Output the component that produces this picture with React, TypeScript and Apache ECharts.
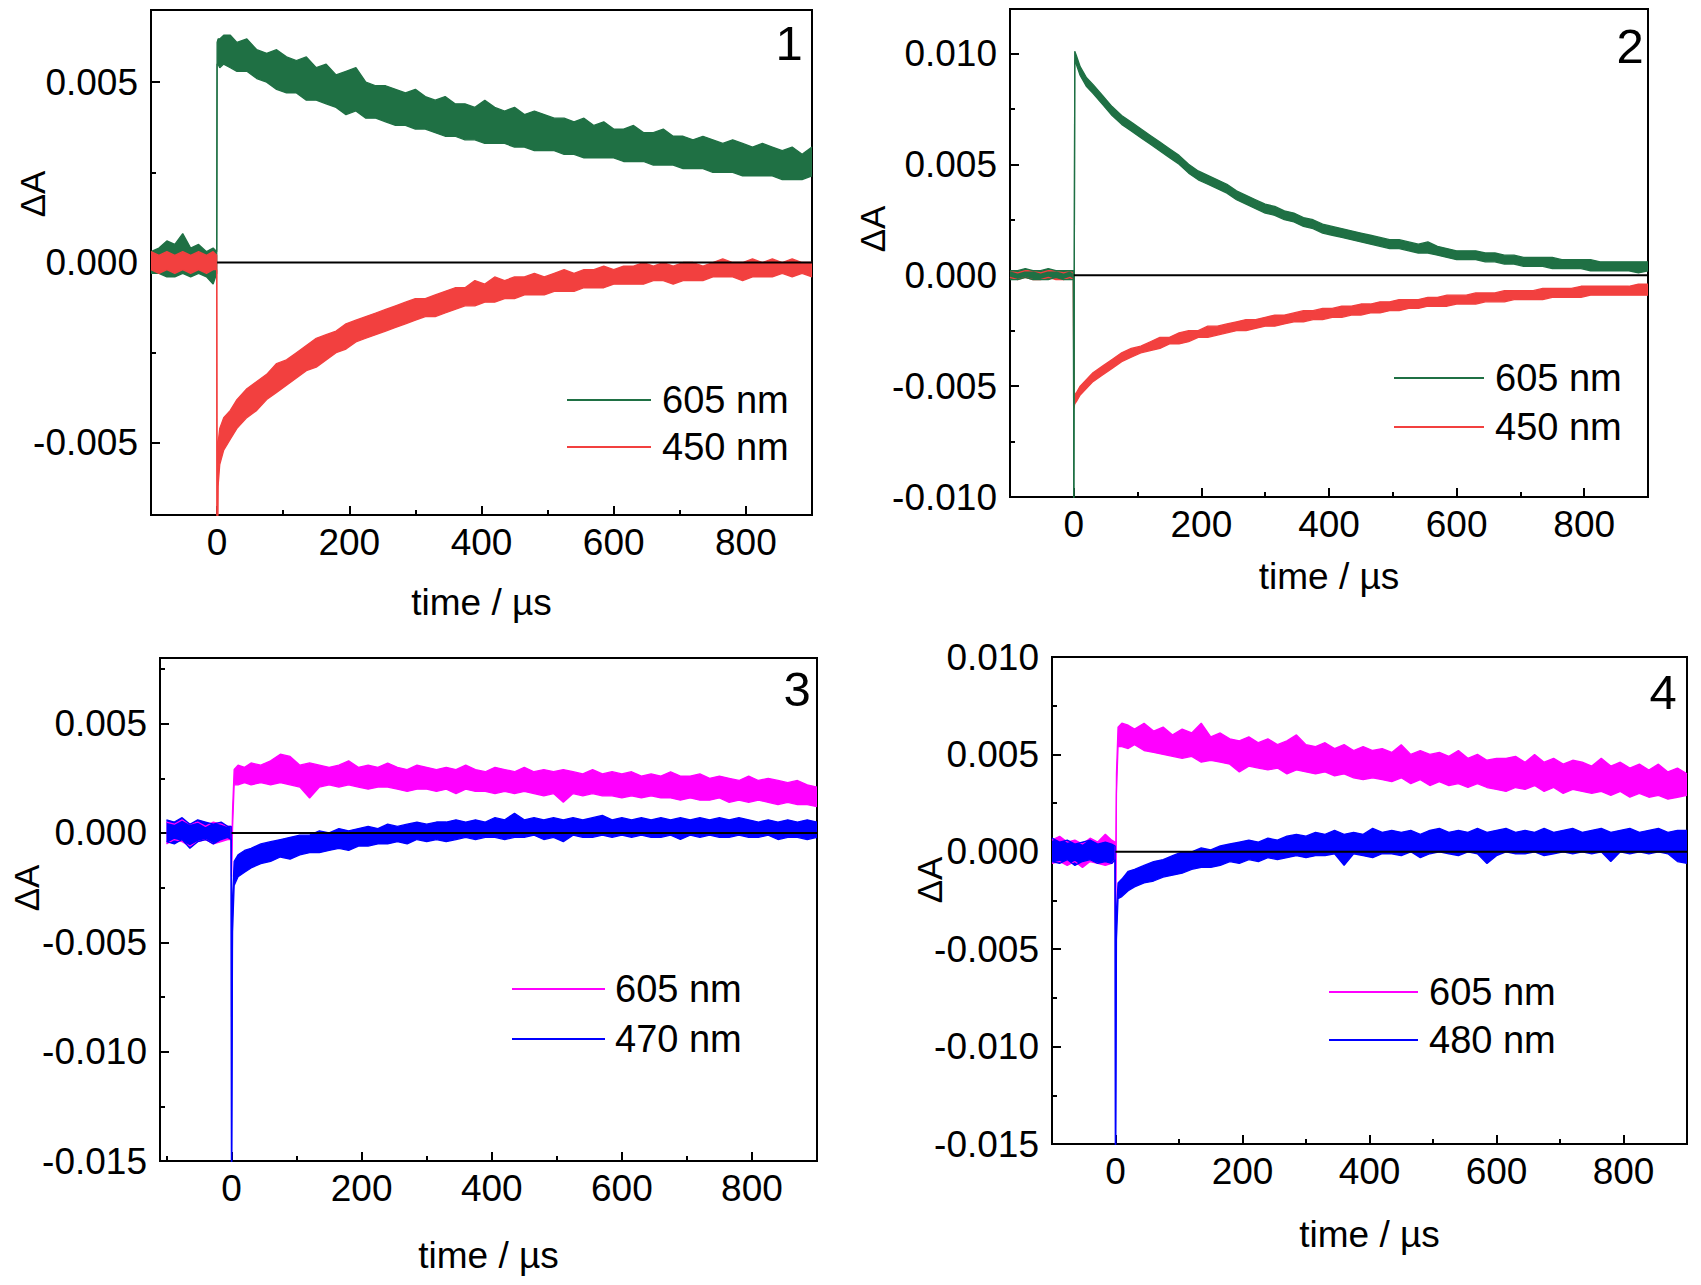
import React, { useEffect, useRef } from "react";
import * as echarts from "echarts";

// ---------- DATA ----------
// time axis in µs, shared by every trace
const timeUs = [
  -100, -88, -76, -64, -52, -40, -28, -16, -6, -0.6,
  0, 1.5, 4, 10, 20, 30, 45, 60, 75, 90,
  105, 120, 135, 150, 165, 180, 195, 210, 225, 240,
  255, 270, 285, 300, 315, 330, 345, 360, 375, 390,
  405, 420, 435, 450, 465, 480, 495, 510, 525, 540,
  555, 570, 585, 600, 615, 630, 645, 660, 675, 690,
  705, 720, 735, 750, 765, 780, 795, 810, 825, 840,
  855, 870, 885, 900,
];

// ΔA in units of 1e-4: upper (Hi) and lower (Lo) edge of each noisy trace
// Panel 1
const p1G605Hi = [
  3, 4, 6, 5, 8, 4, 5, 3, 4, 3,
  61, 62, 62, 63, 63, 61, 62, 59, 58, 59,
  57, 56, 57, 54, 55, 52, 53, 54, 50, 49,
  49, 48, 47, 48, 46, 45, 46, 44, 44, 43,
  45, 43, 42, 43, 41, 42, 41, 40, 40, 39,
  40, 38, 39, 37, 37, 38, 36, 36, 37, 35,
  35, 34, 35, 34, 33, 34, 33, 32, 33, 32,
  31, 32, 30, 32,
];
const p1G605Lo = [
  -3, -3, -4, -4, -3, -4, -3, -4, -6, -3,
  55, 55, 54, 55, 54, 53, 53, 51, 50, 48,
  47, 47, 45, 45, 44, 43, 41, 42, 40, 40,
  39, 38, 38, 37, 37, 36, 35, 35, 34, 34,
  33, 33, 33, 32, 32, 31, 31, 31, 30, 30,
  29, 29, 29, 29, 28, 28, 28, 27, 27, 27,
  26, 26, 26, 25, 25, 25, 24, 24, 24, 24,
  23, 23, 23, 24,
];
const p1R450Hi = [
  3, 2, 3, 2, 3, 2, 3, 2, 3, 2,
  -90, -50, -46, -43, -41, -38, -35, -33, -31, -28,
  -27, -25, -23, -21, -20, -19, -17, -16, -15, -14,
  -13, -12, -11, -10, -10, -9, -8, -7, -7, -5,
  -6, -4, -5, -4, -4, -3, -4, -3, -2, -3,
  -2, -2, -1, -2, -1, -1, 0, -1, 0, -1,
  0, 0, -1, 0, 1, 0, 0, 1, 0, 1,
  0, 1, 0, 0,
];
const p1R450Lo = [
  -2, -3, -2, -3, -2, -3, -2, -3, -2, -2,
  -95, -62, -56, -52, -49, -46, -43, -41, -38, -36,
  -34, -32, -30, -29, -27, -25, -24, -22, -21, -20,
  -19, -18, -17, -16, -15, -15, -14, -13, -12, -12,
  -11, -11, -10, -10, -9, -9, -9, -8, -8, -8,
  -7, -7, -7, -6, -6, -6, -6, -5, -5, -6,
  -5, -5, -5, -4, -4, -4, -5, -4, -4, -4,
  -3, -4, -3, -4,
];
// Panel 2
const p2G605Hi = [
  2, 2, 3, 2, 2, 3, 2, 2, 2, 2,
  -105, 101, 99, 94, 89, 86, 81, 76, 72, 69,
  66, 63, 60, 57, 54, 50, 47, 45, 43, 41,
  38, 36, 34, 32, 31, 29, 28, 26, 25, 23,
  22, 21, 20, 19, 18, 17, 16, 16, 15, 14,
  15, 13, 12, 11, 11, 11, 10, 10, 9, 9,
  8, 8, 8, 8, 7, 7, 7, 7, 6, 6,
  6, 6, 6, 6,
];
const p2G605Lo = [
  -2, -2, -1, -2, -2, -2, -1, -2, -2, -2,
  -110, 97, 95, 90, 85, 82, 77, 72, 68, 65,
  62, 59, 56, 53, 50, 46, 43, 41, 39, 37,
  34, 32, 30, 28, 27, 25, 24, 22, 21, 19,
  18, 17, 16, 15, 14, 13, 12, 12, 11, 10,
  10, 9, 8, 7, 7, 7, 6, 6, 5, 5,
  4, 4, 4, 3, 3, 3, 3, 2, 2, 2,
  2, 2, 1, 2,
];
const p2R450Hi = [
  2, 1, 2, 2, 1, 2, 2, 1, 2, 1,
  -56, -54, -53, -50, -47, -44, -41, -38, -35, -33,
  -32, -30, -28, -28, -26, -25, -25, -23, -23, -22,
  -21, -20, -20, -19, -18, -18, -17, -16, -16, -15,
  -15, -14, -14, -13, -13, -12, -12, -11, -11, -11,
  -10, -10, -9, -9, -9, -8, -8, -8, -7, -7,
  -7, -7, -6, -6, -6, -6, -5, -5, -5, -5,
  -5, -5, -4, -4,
];
const p2R450Lo = [
  -1, -2, -1, -2, -2, -1, -2, -2, -1, -2,
  -60, -58, -57, -54, -51, -48, -45, -42, -39, -37,
  -35, -34, -33, -31, -31, -30, -28, -28, -27, -26,
  -25, -25, -24, -23, -23, -22, -21, -21, -20, -20,
  -19, -19, -18, -18, -17, -17, -16, -16, -15, -15,
  -14, -14, -14, -13, -13, -13, -12, -12, -12, -11,
  -11, -11, -11, -10, -10, -10, -10, -9, -9, -9,
  -9, -9, -9, -9,
];
// Panel 3
const p3M605Hi = [
  5, 4, 6, 4, 5, 3, 5, 4, 3, 3,
  -12, 10, 29, 31, 30, 32, 31, 33, 36, 35,
  31, 32, 31, 30, 31, 33, 30, 31, 30, 32,
  30, 29, 31, 30, 29, 30, 29, 31, 29, 28,
  30, 29, 28, 30, 28, 29, 28, 29, 28, 27,
  29, 27, 28, 27, 28, 26, 27, 26, 28, 26,
  26, 27, 25, 26, 25, 24, 26, 24, 25, 24,
  23, 24, 22, 21,
];
const p3M605Lo = [
  -5, -3, -4, -6, -4, -3, -5, -4, -3, -3,
  -20, 2, 22, 22, 23, 22, 23, 22, 23, 22,
  21, 16, 21, 22, 21, 22, 21, 20, 21, 21,
  20, 19, 20, 20, 19, 20, 18, 20, 19, 19,
  18, 19, 18, 19, 18, 17, 18, 14, 18, 17,
  18, 17, 17, 16, 17, 16, 17, 16, 16, 15,
  16, 15, 15, 16, 14, 15, 14, 15, 14, 13,
  14, 13, 13, 12,
];
const p3B470Hi = [
  6, 5, 7, 4, 6, 5, 4, 5, 3, 3,
  -158, -30, -13, -10, -8, -7, -5, -4, -3, -2,
  -1, -1, 1, 0, 2, 1, 2, 3, 2, 4,
  3, 4, 5, 4, 5, 5, 6, 5, 6, 5,
  7, 6, 9, 6, 7, 6, 7, 6, 7, 6,
  7, 8, 6, 7, 6, 7, 6, 7, 6, 7,
  6, 7, 6, 7, 6, 7, 6, 5, 6, 5,
  6, 5, 6, 5,
];
const p3B470Lo = [
  -4, -5, -3, -7, -4, -3, -5, -3, -2, -3,
  -165, -45, -24, -20, -18, -16, -14, -13, -11, -12,
  -10, -9, -9, -8, -7, -8, -6, -6, -5, -5,
  -4, -5, -3, -4, -3, -4, -3, -2, -3, -2,
  -2, -3, -2, -2, -1, -3, -2, -4, -1, -2,
  -2, -1, -2, -1, -2, -1, -2, -2, -1, -3,
  -1, -2, -1, -2, -2, -1, -2, -2, -1, -3,
  -2, -2, -3, -2,
];
// Panel 4
const p4M605Hi = [
  6, 8, 5, 6, 4, 7, 5, 9, 6, 5,
  -35, 40, 64, 66, 65, 63, 66, 62, 64, 60,
  63, 61, 66, 59, 61, 58, 57, 59, 56, 58,
  55, 57, 60, 55, 54, 56, 53, 55, 52, 54,
  52, 53, 51, 55, 50, 52, 50, 51, 49, 52,
  48, 50, 47, 48, 48, 49, 46, 50, 46, 48,
  45, 47, 46, 44, 48, 44, 46, 43, 45, 42,
  45, 41, 43, 40,
];
const p4M605Lo = [
  -6, -5, -7, -5, -8, -5, -6, -7, -6, -4,
  -40, 30, 54, 54, 53, 55, 52, 51, 50, 49,
  48, 49, 46, 47, 46, 45, 41, 44, 43, 42,
  43, 40, 42, 41, 40, 41, 39, 40, 38, 37,
  38, 37, 36, 38, 35, 37, 34, 36, 34, 35,
  33, 35, 33, 32, 31, 33, 32, 34, 31, 33,
  30, 32, 31, 30, 31, 29, 31, 28, 30, 28,
  29, 27, 28, 29,
];
const p4B480Hi = [
  7, 5, 6, 4, 5, 6, 4, 5, 4, 3,
  -160, -30, -16, -14, -10, -9, -7, -5, -4, -2,
  0, 0, 2, 1, 3, 4, 5, 6, 5, 7,
  6, 8, 9, 8, 10, 9, 11, 9, 10, 9,
  12, 10, 11, 10, 11, 9, 11, 12, 10, 11,
  10, 12, 10, 11, 12, 10, 11, 10, 12, 10,
  11, 12, 10, 11, 12, 10, 11, 12, 10, 11,
  12, 10, 11, 11,
];
const p4B480Lo = [
  -5, -6, -4, -7, -5, -4, -6, -5, -6, -4,
  -168, -45, -24, -23, -20, -18, -16, -15, -13, -12,
  -11, -9, -8, -8, -7, -5, -6, -4, -5, -3,
  -4, -3, -2, -3, -2, -2, -1, -7, -1, -2,
  -3, -1, -1, -2, 0, -3, -1, 0, -1, -2,
  0, -1, -6, -2, 0, -1, -1, 0, -2, -1,
  0, -1, 0, -1, 0, -5, 0, -1, 0, -1,
  0, -1, -5, -6,
];

// baseline (zero line) drawn from t = 0
const baselineT = [0, 900];
const baselineY = [0, 0];

const xTitle = "time / µs";
const yTitle = "ΔA";
const panelTags = ["1", "2", "3", "4"];

const UNIT = 1e-4;

// ---------- STYLE / LAYOUT ----------
const FONT = '"Liberation Sans", Arial, Helvetica, sans-serif';
const GREEN = "#1f7044";
const RED = "#f2403f";
const MAGENTA = "#ff00ff";
const BLUE = "#0000ff";

type Trace = { name: string; color: string; hi: number[]; lo: number[] };
type Panel = {
  left: number; top: number; width: number; height: number;
  xMin: number; xMax: number; yMin: number; yMax: number;
  showMinY: boolean; showMaxY: boolean; nameGap: number;
  traces: Trace[]; drawOrder: number[];
  tagPos: [number, number]; dAPos: [number, number];
  legX1: number; legX2: number; legYs: [number, number]; legTx: number;
};

const panels: Panel[] = [
  {
    left: 151, top: 10, width: 661, height: 505,
    xMin: -100, xMax: 900, yMin: -0.007, yMax: 0.007,
    showMinY: false, showMaxY: false, nameGap: 69,
    traces: [
      { name: "605 nm", color: GREEN, hi: p1G605Hi, lo: p1G605Lo },
      { name: "450 nm", color: RED, hi: p1R450Hi, lo: p1R450Lo },
    ],
    drawOrder: [0, 1],
    tagPos: [789, 43], dAPos: [32, 194],
    legX1: 567, legX2: 651, legYs: [400, 447], legTx: 662,
  },
  {
    left: 1010, top: 9, width: 638, height: 488,
    xMin: -100, xMax: 900, yMin: -0.010, yMax: 0.012,
    showMinY: true, showMaxY: false, nameGap: 61,
    traces: [
      { name: "605 nm", color: GREEN, hi: p2G605Hi, lo: p2G605Lo },
      { name: "450 nm", color: RED, hi: p2R450Hi, lo: p2R450Lo },
    ],
    drawOrder: [1, 0],
    tagPos: [1630, 46], dAPos: [872, 229],
    legX1: 1394, legX2: 1484, legYs: [378, 427], legTx: 1495,
  },
  {
    left: 160, top: 658, width: 657, height: 503,
    xMin: -110, xMax: 900, yMin: -0.015, yMax: 0.008,
    showMinY: true, showMaxY: false, nameGap: 76,
    traces: [
      { name: "605 nm", color: MAGENTA, hi: p3M605Hi, lo: p3M605Lo },
      { name: "470 nm", color: BLUE, hi: p3B470Hi, lo: p3B470Lo },
    ],
    drawOrder: [0, 1],
    tagPos: [797, 689], dAPos: [26, 888],
    legX1: 512, legX2: 605, legYs: [989, 1039], legTx: 615,
  },
  {
    left: 1052, top: 657, width: 635, height: 487,
    xMin: -100, xMax: 900, yMin: -0.015, yMax: 0.010,
    showMinY: true, showMaxY: true, nameGap: 72,
    traces: [
      { name: "605 nm", color: MAGENTA, hi: p4M605Hi, lo: p4M605Lo },
      { name: "480 nm", color: BLUE, hi: p4B480Hi, lo: p4B480Lo },
    ],
    drawOrder: [0, 1],
    tagPos: [1663, 692], dAPos: [929, 880],
    legX1: 1329, legX2: 1418, legYs: [992, 1040], legTx: 1429,
  },
];

function buildOption() {
  const grid: any[] = [];
  const xAxis: any[] = [];
  const yAxis: any[] = [];
  const series: any[] = [];
  const graphic: any[] = [];

  const tickStyle = { color: "#000", width: 2 };
  const labelBase = { fontFamily: FONT, color: "#000" };

  panels.forEach((p, i) => {
    grid.push({
      left: p.left, top: p.top, width: p.width, height: p.height,
      show: true, borderColor: "#000", borderWidth: 2,
      backgroundColor: "transparent", containLabel: false, outerBoundsMode: "none",
    });
    // major x axis
    xAxis.push({
      type: "value", gridIndex: i, position: "bottom",
      min: p.xMin, max: p.xMax, minInterval: 200, maxInterval: 200, splitNumber: 5,
      axisLine: { show: true, onZero: false, lineStyle: tickStyle },
      axisTick: { show: true, inside: true, length: 9, lineStyle: tickStyle },
      axisLabel: {
        ...labelBase, fontSize: 37, margin: 9, showMinLabel: false, showMaxLabel: false,
        formatter: (v: number) => String(Math.round(v)),
      },
      splitLine: { show: false },
      name: xTitle, nameLocation: "middle", nameGap: p.nameGap,
      nameTextStyle: { ...labelBase, fontSize: 37 },
    });
    // minor x ticks
    xAxis.push({
      type: "value", gridIndex: i, position: "bottom",
      min: p.xMin, max: p.xMax, minInterval: 100, maxInterval: 100, splitNumber: 10,
      axisLine: { show: false, onZero: false },
      axisTick: { show: true, inside: true, length: 5, lineStyle: tickStyle },
      axisLabel: { show: false },
      splitLine: { show: false },
    });
    // major y axis
    yAxis.push({
      type: "value", gridIndex: i, position: "left",
      min: p.yMin, max: p.yMax, minInterval: 0.005, maxInterval: 0.005, splitNumber: 4,
      axisLine: { show: true, onZero: false, lineStyle: tickStyle },
      axisTick: { show: true, inside: true, length: 9, lineStyle: tickStyle },
      axisLabel: {
        ...labelBase, fontSize: 37, margin: 13,
        showMinLabel: p.showMinY, showMaxLabel: p.showMaxY,
        formatter: (v: number) => v.toFixed(3),
      },
      splitLine: { show: false },
    });
    // minor y ticks
    yAxis.push({
      type: "value", gridIndex: i, position: "left",
      min: p.yMin, max: p.yMax, minInterval: 0.0025, maxInterval: 0.0025, splitNumber: 8,
      axisLine: { show: false, onZero: false },
      axisTick: { show: true, inside: true, length: 5, lineStyle: tickStyle },
      axisLabel: { show: false },
      splitLine: { show: false },
    });

    const xi = 2 * i;
    const yi = 2 * i;
    p.drawOrder.forEach((ti) => {
      const tr = p.traces[ti];
      // filled noise band between lower and upper edge
      series.push({
        type: "custom", name: tr.name, xAxisIndex: xi, yAxisIndex: yi,
        clip: true, silent: true, z: 2,
        data: timeUs.map((t, k) => [t, tr.lo[k] * UNIT, tr.hi[k] * UNIT]),
        renderItem: (params: any, api: any) => {
          if (params.dataIndex !== 0) return null;
          const cs = params.coordSys;
          const cy = (y: number) => Math.max(cs.y - 1, Math.min(cs.y + cs.height + 1, y));
          const pts: number[][] = [];
          for (let k = 0; k < timeUs.length; k++) {
            const c = api.coord([timeUs[k], tr.hi[k] * UNIT]);
            pts.push([c[0], cy(c[1])]);
          }
          for (let k = timeUs.length - 1; k >= 0; k--) {
            const c = api.coord([timeUs[k], tr.lo[k] * UNIT]);
            pts.push([c[0], cy(c[1])]);
          }
          return { type: "polygon", shape: { points: pts }, style: { fill: tr.color } };
        },
      });
      // upper and lower edges as line series
      [tr.hi, tr.lo].forEach((arr) => {
        series.push({
          type: "line", name: tr.name, xAxisIndex: xi, yAxisIndex: yi,
          data: timeUs.map((t, k) => [t, arr[k] * UNIT]),
          symbol: "none", showSymbol: false, silent: true, z: 2,
          lineStyle: { color: tr.color, width: 1.3 },
          itemStyle: { color: tr.color },
        });
      });
    });
    // zero baseline
    series.push({
      type: "line", name: "baseline", xAxisIndex: xi, yAxisIndex: yi,
      data: baselineT.map((t, k) => [t, baselineY[k]]),
      symbol: "none", showSymbol: false, silent: true, z: 4,
      lineStyle: { color: "#000", width: 2 },
    });

    // legend (line + text)
    p.traces.forEach((tr, li) => {
      graphic.push({
        type: "line", z: 10,
        shape: { x1: p.legX1, y1: p.legYs[li], x2: p.legX2, y2: p.legYs[li] },
        style: { stroke: tr.color, lineWidth: 2 },
      });
      graphic.push({
        type: "text", z: 10, x: p.legTx, y: p.legYs[li],
        style: {
          text: tr.name, fill: "#000", fontSize: 38, fontFamily: FONT,
          align: "left", verticalAlign: "middle", textAlign: "left", textVerticalAlign: "middle",
        },
      });
    });
    // panel tag
    graphic.push({
      type: "text", z: 10, x: p.tagPos[0], y: p.tagPos[1],
      style: {
        text: panelTags[i], fill: "#000", fontSize: 49, fontFamily: FONT,
        align: "center", verticalAlign: "middle", textAlign: "center", textVerticalAlign: "middle",
      },
    });
    // y axis title
    graphic.push({
      type: "text", z: 10, x: p.dAPos[0], y: p.dAPos[1], rotation: Math.PI / 2,
      style: {
        text: yTitle, fill: "#000", fontSize: 35, fontFamily: FONT,
        align: "center", verticalAlign: "middle", textAlign: "center", textVerticalAlign: "middle",
      },
    });
  });

  return {
    animation: false,
    backgroundColor: "#ffffff",
    textStyle: { fontFamily: FONT },
    grid, xAxis, yAxis, series, graphic,
  };
}

export default function App() {
  const ref = useRef<HTMLDivElement>(null);
  useEffect(() => {
    if (!ref.current) return;
    const chart = echarts.init(ref.current, undefined, { renderer: "svg" });
    chart.setOption(buildOption() as any);
    return () => chart.dispose();
  }, []);
  return (
    <div
      ref={ref}
      style={{ position: "absolute", left: 0, top: 0, width: 1701, height: 1285, background: "#fff" }}
    />
  );
}
